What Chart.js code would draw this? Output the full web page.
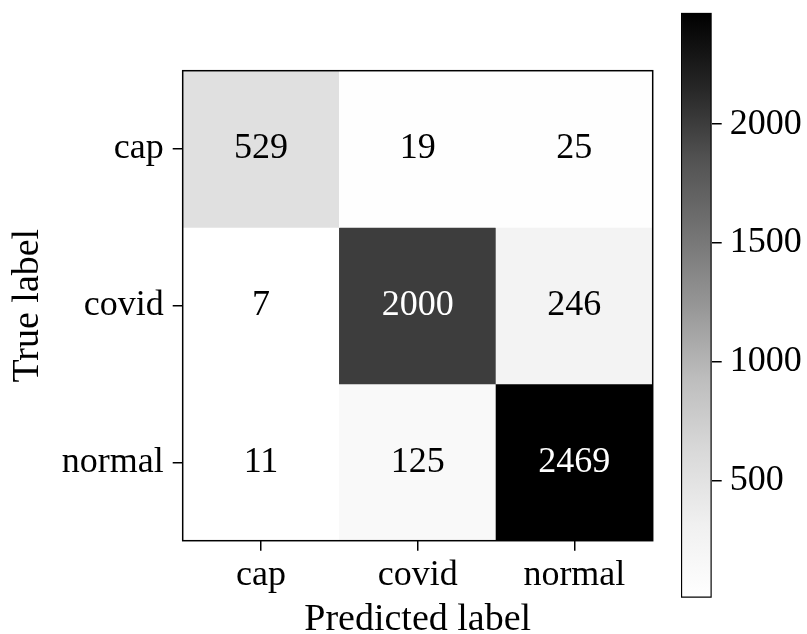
<!DOCTYPE html>
<html>
<head>
<meta charset="utf-8">
<script src="https://cdn.jsdelivr.net/npm/chart.js@4.4.1/dist/chart.umd.min.js"></script>
<style>
  body { margin: 0; background: #fff; }
  #wrap { position: relative; width: 807px; height: 634px; }
  canvas { position: absolute; left: 0; top: 0; }
</style>
</head>
<body>
<div id="wrap">
  <canvas id="matrix" width="807" height="634"></canvas>
  <canvas id="colorbar" width="807" height="634"></canvas>
</div>
<script>
// confusion matrix values (rows = true label, columns = predicted label)
const classLabels = ['cap', 'covid', 'normal'];
const rowCap = [529, 19, 25];
const rowCovid = [7, 2000, 246];
const rowNormal = [11, 125, 2469];
const colorbarTicks = [500, 1000, 1500, 2000];

const rows = [rowCap, rowCovid, rowNormal];
const allValues = rows.flat();
const vmin = Math.min(...allValues);
const vmax = Math.max(...allValues);

// matplotlib "Greys" colormap
const greysStops = [
    [0, 255], [0.125, 240], [0.25, 217], [0.375, 189], [0.5, 150],
    [0.625, 115], [0.75, 82], [0.875, 37], [1, 0]
];

function greys(t) {
    t = Math.max(0, Math.min(1, t));
    for (let k = 1; k < greysStops.length; k++) {
        const [t1, g1] = greysStops[k];
        const [t0, g0] = greysStops[k - 1];
        if (t <= t1) {
            const g = Math.round(g0 + (g1 - g0) * (t - t0) / (t1 - t0));
            return `rgb(${g},${g},${g})`;
        }
    }
    return 'rgb(0,0,0)';
}

function norm(v) {
    return (v - vmin) / (vmax - vmin);
}

Chart.defaults.font.family = "'Liberation Serif', 'Times New Roman', serif";
Chart.defaults.color = '#000';

const FRAME = { left: 182.7, top: 70.7, right: 652.7, bottom: 540.7 };

// draws the frame and the numbers inside the cells
const cellTextPlugin = {
    id: 'cellText',
    afterDatasetsDraw(chart) {
        const ctx = chart.ctx;
        const xs = chart.scales.x;
        const ys = chart.scales.y;
        const area = chart.chartArea;
        ctx.save();
        ctx.strokeStyle = '#000';
        ctx.lineWidth = 1.5;
        ctx.strokeRect(area.left, area.top, area.right - area.left, area.bottom - area.top);
        ctx.font = "36px 'Liberation Serif', serif";
        ctx.textAlign = 'center';
        ctx.textBaseline = 'middle';
        rows.forEach((row, i) => {
            row.forEach((v, j) => {
                ctx.fillStyle = v > (vmin + vmax) / 2 ? '#fff' : '#000';
                ctx.fillText(String(v), xs.getPixelForValue(j), ys.getPixelForValue(i));
            });
        });
        ctx.restore();
    }
};

new Chart(document.getElementById('matrix'), {
    type: 'bar',
    data: {
        labels: classLabels,
        datasets: rows.map((row, i) => ({
            data: row.map(() => [i - 0.5, i + 0.5]),
            backgroundColor: row.map(v => greys(norm(v))),
            borderWidth: 0,
            barPercentage: 1,
            categoryPercentage: 1,
            grouped: false
        }))
    },
    options: {
        responsive: false,
        animation: false,
        devicePixelRatio: 1,
        layout: { padding: { left: 0, top: FRAME.top, right: 807 - FRAME.right, bottom: 0 } },
        plugins: { legend: { display: false }, tooltip: { enabled: false } },
        scales: {
            x: {
                type: 'category',
                afterFit(scale) { scale.height = 634 - FRAME.bottom; },
                border: { display: false },
                grid: { offset: false, drawOnChartArea: false, drawTicks: true, tickLength: 10, color: '#000', lineWidth: 1.5 },
                ticks: { font: { size: 36 }, padding: 3, maxRotation: 0 },
                title: { display: true, text: 'Predicted label', font: { size: 38, lineHeight: 0.75 }, padding: 0 }
            },
            y: {
                type: 'linear',
                reverse: true,
                min: -0.5,
                max: 2.5,
                afterFit(scale) { scale.width = FRAME.left; },
                afterBuildTicks(scale) { scale.ticks = classLabels.map((_, i) => ({ value: i })); },
                border: { display: false },
                grid: { drawOnChartArea: false, drawTicks: true, tickLength: 10, color: '#000', lineWidth: 1.5 },
                ticks: { font: { size: 36 }, padding: 9, callback: (v) => classLabels[v] },
                title: { display: true, text: 'True label', font: { size: 38, lineHeight: 1.2 }, padding: { top: 5, bottom: 0 } }
            }
        }
    },
    plugins: [cellTextPlugin]
});

// colorbar: a single bar spanning vmin..vmax, filled with the colormap
const CB = { left: 681, top: 12.7, right: 711.7, bottom: 597.7 };

function colorbarFill(context) {
    const chart = context.chart;
    const area = chart.chartArea;
    if (!area) return '#888';
    const g = chart.ctx.createLinearGradient(0, area.bottom, 0, area.top);
    greysStops.forEach(([t]) => g.addColorStop(t, greys(t)));
    return g;
}

new Chart(document.getElementById('colorbar'), {
    type: 'bar',
    data: {
        labels: ['cb'],
        datasets: [{
            data: [[vmin, vmax]],
            backgroundColor: colorbarFill,
            borderColor: '#000',
            borderWidth: 1.5,
            borderSkipped: false,
            barPercentage: 1,
            categoryPercentage: 1
        }]
    },
    options: {
        responsive: false,
        animation: false,
        devicePixelRatio: 1,
        layout: { padding: { left: CB.left, top: CB.top, right: 0, bottom: 634 - CB.bottom } },
        plugins: { legend: { display: false }, tooltip: { enabled: false } },
        scales: {
            x: { display: false },
            y: {
                type: 'linear',
                position: 'right',
                min: vmin,
                max: vmax,
                afterFit(scale) {
                    scale.width = 807 - CB.right;
                    scale.paddingTop = 0;
                    scale.paddingBottom = 0;
                },
                afterBuildTicks(scale) { scale.ticks = colorbarTicks.map(v => ({ value: v })); },
                border: { display: false },
                grid: { drawOnChartArea: false, drawTicks: true, tickLength: 10, color: '#000', lineWidth: 1.5 },
                ticks: { font: { size: 36 }, padding: 8, callback: (v) => String(v) }
            }
        }
    }
});
</script>
</body>
</html>
